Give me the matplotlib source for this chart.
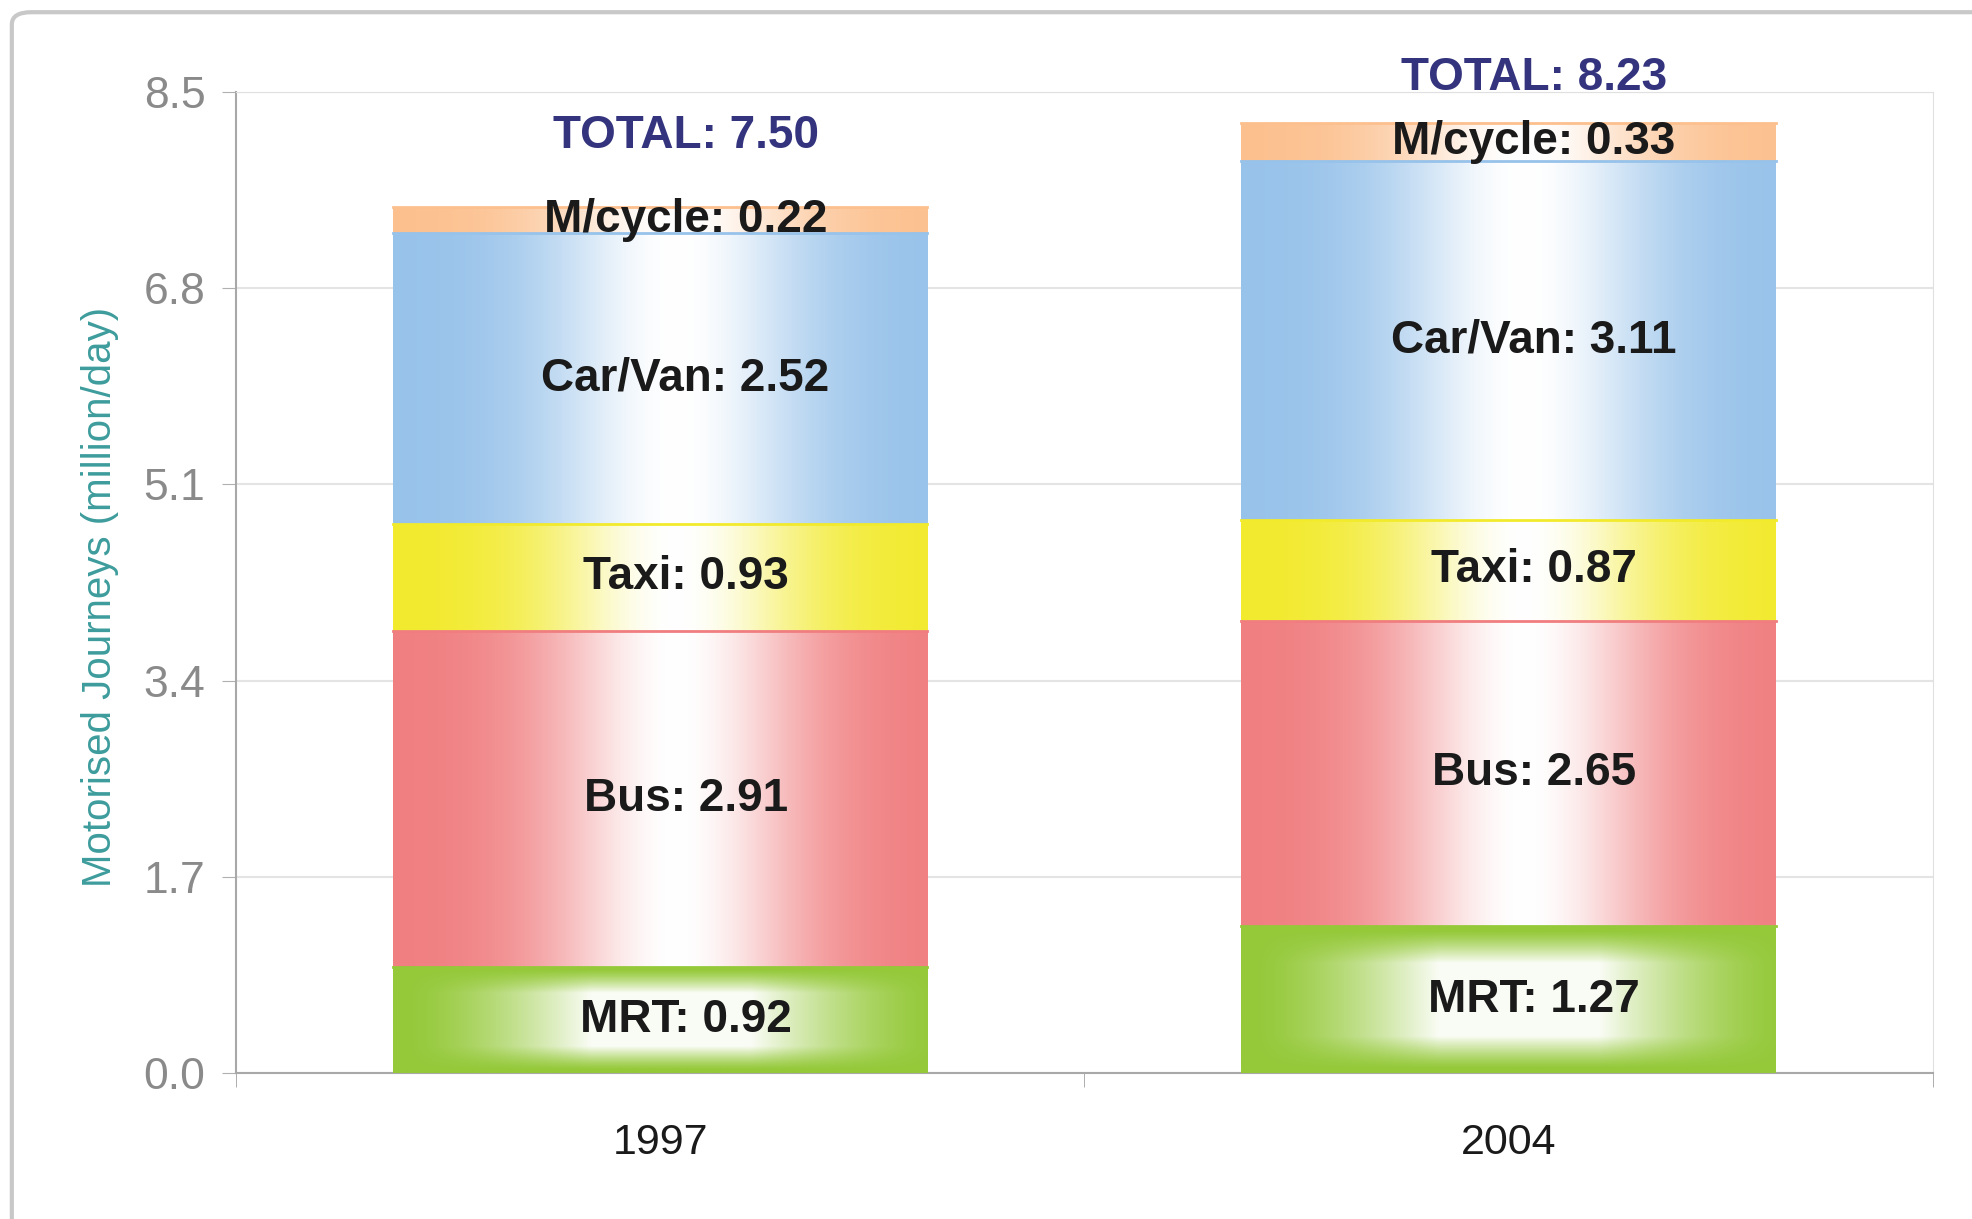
import numpy as np
import matplotlib
matplotlib.use("Agg")
import matplotlib.pyplot as plt
from matplotlib.colors import to_rgb
from matplotlib.patches import FancyBboxPatch

# data
years = ["1997", "2004"]
modes = ["MRT", "Bus", "Taxi", "Car/Van", "M/cycle"]
mrt = [0.92, 1.27]
bus = [2.91, 2.65]
taxi = [0.93, 0.87]
car_van = [2.52, 3.11]
m_cycle = [0.22, 0.33]
totals = [7.50, 8.23]
y_ticks = [0.0, 1.7, 3.4, 5.1, 6.8, 8.5]

# styles
colors = ["#95C93A", "#F07E80", "#F2EA2C", "#97C2EA", "#FCC08E"]
box_glow = [True, False, False, False, False]
total_pad = [0.62, 0.39]

plt.rcParams["font.family"] = ["Liberation Sans", "DejaVu Sans"]

fig = plt.figure(figsize=(19.72, 12.19), dpi=100)
ax = fig.add_axes([0.1197, 0.1198, 0.8603, 0.8047])

# outer panel frame
frame = FancyBboxPatch((0.006, -0.05), 1.1, 1.04, boxstyle="round,pad=0,rounding_size=0.01",
                       transform=fig.transFigure, facecolor="none", edgecolor="#C8C8C8",
                       linewidth=3, zorder=0)
fig.patches.append(frame)

x = np.arange(len(years))
width = 0.63
series = [mrt, bus, taxi, car_van, m_cycle]


def gradient(color, glow, nx=300, ny=150):
    t = np.linspace(0, 1, nx)
    if glow:
        wx = np.clip((0.5 - np.abs(t - 0.52)) / 0.35, 0, 1) ** 1.5
        s = np.linspace(0, 1, ny)
        wy = np.clip((np.minimum(s, 1 - s) - 0.03) / 0.22, 0, 1) ** 1.2
        w = 0.95 * wy[:, None] * wx[None, :]
    else:
        wx = np.exp(-((t - 0.53) / 0.24) ** 2)
        w = np.tile(wx, (ny, 1))
    c = np.array(to_rgb(color))
    img = c[None, None, :] * (1 - w[..., None]) + w[..., None]
    return img


bottom = np.zeros(len(years))
for vals, col, glow, name in zip(series, colors, box_glow, modes):
    bars = ax.bar(x, vals, width, bottom=bottom, color=col, edgecolor="none", zorder=2)
    for b, v in zip(bars, vals):
        x0, y0 = b.get_x(), b.get_y()
        im = ax.imshow(gradient(col, glow), extent=(x0, x0 + b.get_width(), y0, y0 + b.get_height()),
                       aspect="auto", origin="lower", zorder=3, interpolation="bilinear")
        im.set_clip_path(b)
        ax.plot([x0, x0 + b.get_width()], [y0 + b.get_height()] * 2, color=col, lw=2, zorder=4)
        ax.text(b.get_x() + b.get_width() / 2 + 0.03, y0 + b.get_height() / 2, f"{name}: {v:.2f}",
                ha="center", va="center", fontsize=33, fontweight="bold", color="#1A1A1A", zorder=5)
    bottom += np.array(vals)

for xi, tot, pad in zip(x, totals, total_pad):
    ax.text(xi + 0.03, tot + pad, f"TOTAL: {tot:.2f}", ha="center", va="center",
            fontsize=33, fontweight="bold", color="#34347E", zorder=5)

ax.set_xlim(-0.5, 1.5)
ax.set_ylim(0, 8.5)
ax.set_yticks(y_ticks)
ax.set_yticklabels([f"{v:.1f}" for v in y_ticks], fontsize=32, color="#8A8A8A")
ax.set_xticks(x)
ax.set_xticklabels(years, fontsize=31, color="#1A1A1A")
ax.set_xticks([-0.5, 0.5, 1.5], minor=True)
ax.tick_params(axis="x", which="major", length=0, pad=36)
ax.tick_params(axis="x", which="minor", length=10, color="#A0A0A0")
ax.tick_params(axis="y", length=10, color="#B0B0B0", pad=12)
ax.set_ylabel("Motorised Journeys (million/day)", fontsize=29, color="#3E9C9C")
ax.yaxis.set_label_coords(-0.069, 0.485)
ax.grid(axis="y", color="#E4E4E4", lw=1.5, zorder=0)
ax.set_axisbelow(True)
for side in ["top", "right"]:
    ax.spines[side].set_color("#E0E0E0")
for side in ["left", "bottom"]:
    ax.spines[side].set_color("#A8A8A8")
    ax.spines[side].set_linewidth(1.5)

fig.savefig("out.png", dpi=100)
